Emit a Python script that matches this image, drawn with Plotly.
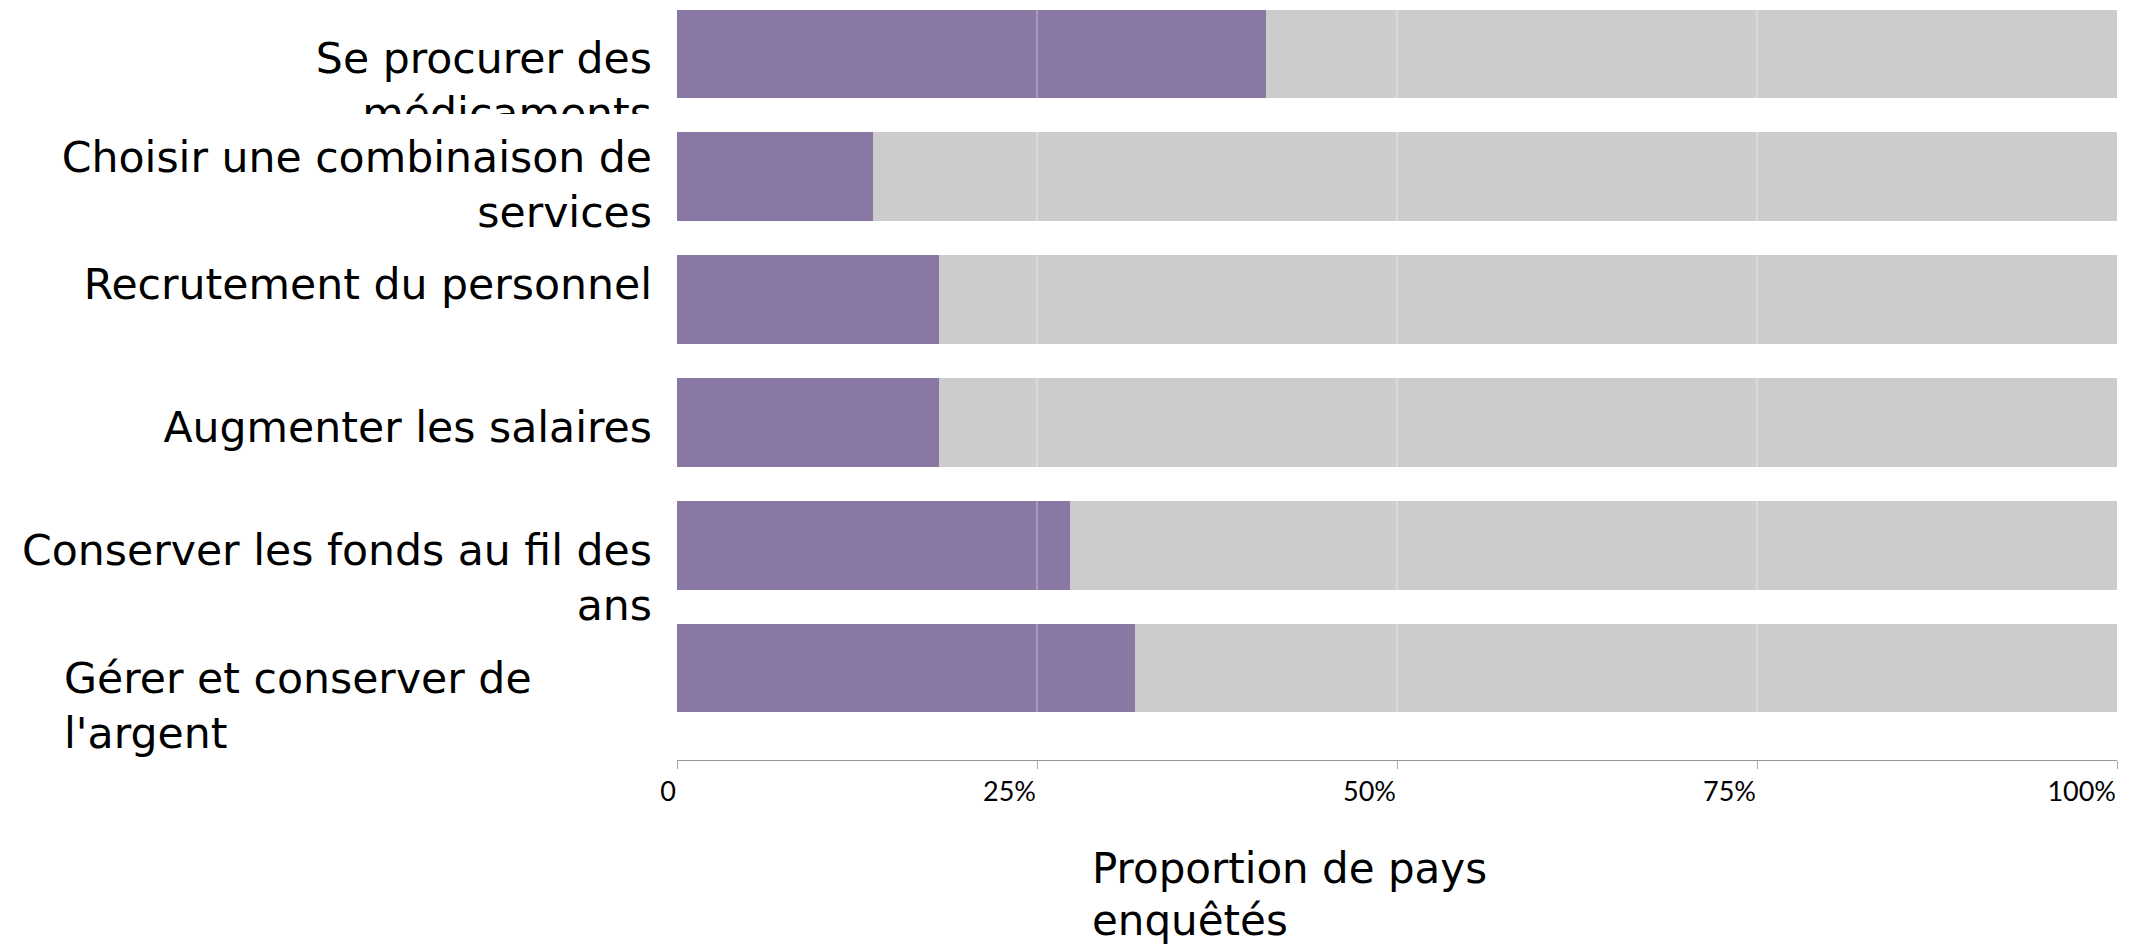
import plotly.graph_objects as go

# ---- data ----
categories = [
    "Se procurer des<br>médicaments",
    "Choisir une combinaison de<br>services",
    "Recrutement du personnel",
    "Augmenter les salaires",
    "Conserver les fonds au fil des<br>ans",
    "Gérer et conserver de<br>l'argent",
]
yes_pct = [40.9, 13.6, 18.2, 18.2, 27.3, 31.8]
no_pct = [59.1, 86.4, 81.8, 81.8, 72.7, 68.2]
tick_vals = [0, 25, 50, 75, 100]
tick_text = ["0", "25%", "50%", "75%", "100%"]
grid_vals = [25, 50, 75]
axis_title_lines = ["Proportion de pays", "enquêtés"]

# ---- style ----
PURPLE = "#8878a3"
GREY = "#cccccc"
W, H = 2133, 937            # page body has an 8px margin
PLOT_L, PLOT_R, PLOT_B = 669, 2109, 752
ROW_PX = 122.8
FIRST_ROW_PX = 46
LABEL_SIZE = 42.6
label_dy = [0.068, -0.126, -0.092, 0.073, 0.075, 0.117]   # first line offset (rows)
LINE_GAP = 0.445                                          # rows between wrapped lines
label_side = ["left", "left", "left", "left", "left", "right"]
FONT = "DejaVu Sans, sans-serif"
LABEL_FONT = dict(family=FONT, size=LABEL_SIZE, color="#000000")
TITLE_SIZE = 42
TITLE_X = 1084
title_baseline_px = [875, 927]

rows = list(range(len(categories)))
y_top = -FIRST_ROW_PX / ROW_PX
y_bot = (PLOT_B - FIRST_ROW_PX) / ROW_PX

fig = go.Figure()
fig.add_trace(go.Bar(
    y=rows, x=yes_pct, orientation="h", marker=dict(color=PURPLE, line=dict(width=0)),
    width=0.722, hoverinfo="skip", showlegend=False,
))
fig.add_trace(go.Bar(
    y=rows, x=no_pct, orientation="h", marker=dict(color=GREY, line=dict(width=0)),
    width=0.722, hoverinfo="skip", showlegend=False,
))

# category labels in a separate label column, one text per wrapped line
for i, lab in enumerate(categories):
    lines = lab.split("<br>")
    ys = [i + label_dy[i] + k * LINE_GAP for k in range(len(lines))]
    right = label_side[i] == "left"
    fig.add_trace(go.Scatter(
        x=[1.0 if right else 0.087] * len(lines), y=ys, xaxis="x2", yaxis="y",
        mode="text", text=lines,
        textposition="middle left" if right else "middle right",
        textfont=LABEL_FONT, cliponaxis=False, hoverinfo="skip", showlegend=False,
    ))

# x-axis title, left-aligned two-line block (overlay axes in pixel units)
fig.add_trace(go.Scatter(
    x=[TITLE_X] * len(axis_title_lines),
    y=[b - 0.25 * TITLE_SIZE for b in title_baseline_px],
    xaxis="x3", yaxis="y3", mode="text", text=axis_title_lines,
    textposition="middle right",
    textfont=dict(family=FONT, size=TITLE_SIZE, color="#000000"),
    cliponaxis=False, hoverinfo="skip", showlegend=False,
))

shapes = [
    # hides the overflow of the first label's second line
    dict(type="rect", xref="x2", yref="y", x0=0, x1=1, y0=0.489, y1=0.67,
         fillcolor="white", line=dict(width=0), layer="above"),
]
for gv in grid_vals:
    shapes.append(dict(type="line", xref="x", yref="y domain", x0=gv, x1=gv, y0=0, y1=1,
                       line=dict(color="rgba(255,255,255,0.35)", width=1.5), layer="above"))

fig.update_layout(
    width=W, height=H,
    margin=dict(l=0, r=0, t=0, b=0, pad=0, autoexpand=False),
    paper_bgcolor="white", plot_bgcolor="rgba(0,0,0,0)",
    barmode="stack",
    xaxis=dict(
        domain=[PLOT_L / W, PLOT_R / W], range=[0, 100], anchor="y",
        tickvals=tick_vals, ticktext=tick_text,
        ticklabelposition="outside left", ticklabelstandoff=8,
        tickfont=dict(family="Lato, sans-serif", size=27, color="#000000"),
        ticks="outside", ticklen=8, tickcolor="#aaaaaa", tickwidth=1,
        showline=True, linecolor="#999999", linewidth=1,
        showgrid=False, zeroline=False, fixedrange=True, automargin=False,
    ),
    yaxis=dict(
        domain=[(H - PLOT_B) / H, 1], anchor="x",
        range=[y_bot, y_top], showticklabels=False, showgrid=False,
        zeroline=False, showline=False, ticks="", fixedrange=True, automargin=False,
    ),
    xaxis2=dict(
        domain=[0, 644 / W], range=[0, 1], anchor="y",
        visible=False, fixedrange=True, automargin=False,
    ),
    xaxis3=dict(domain=[0, 1], range=[0, W], anchor="y3", visible=False,
                fixedrange=True, automargin=False),
    yaxis3=dict(domain=[0, 1], range=[H, 0], anchor="x3", visible=False,
                fixedrange=True, automargin=False),
    shapes=shapes,
)

fig.write_html("out.html")
